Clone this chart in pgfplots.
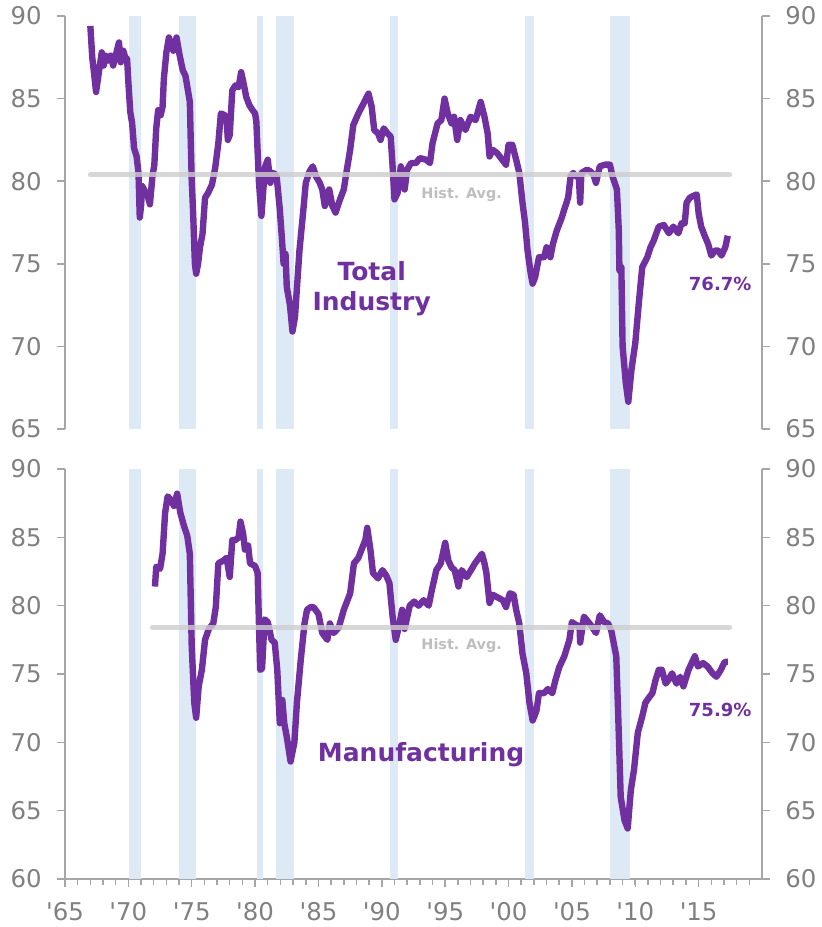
\documentclass[border=0pt]{standalone}
\usepackage{pgfplots}
\pgfplotsset{compat=1.18}
\usepackage{fontspec}
\setmainfont{DejaVu Sans}
\definecolor{cuPurple}{RGB}{112,48,160}
\definecolor{recBlue}{RGB}{222,233,246}
\definecolor{axGray}{RGB}{166,166,166}
\definecolor{lblGray}{RGB}{128,128,128}
\definecolor{avgGray}{RGB}{205,205,205}
\definecolor{avgText}{RGB}{190,190,190}

\pgfplotsset{
  cubase/.style={
    scale only axis, width=348.5pt,
    xmin=1965, xmax=2020,
    axis line style={axGray, line width=0.75pt},
    tick style={axGray, line width=0.75pt},
    tick align=outside,
    major tick length=4pt, minor tick length=3pt,
    ticklabel style={font=\fontsize{12.2}{15}\selectfont, text=lblGray},
    /pgf/number format/assume math mode=true,
  },
  leftax/.style={axis y line*=left, yticklabel style={anchor=east, inner sep=0pt, xshift=-7.5pt}},
  rightax/.style={axis y line*=right, axis x line=none, yticklabel style={anchor=west, inner sep=0pt, xshift=7.5pt}},
}
\newcommand\recessions[2]{%
  \addplot[fill=recBlue, draw=none] coordinates {(1970.07,#1) (1970.07,#2) (1970.97,#2) (1970.97,#1)} -- cycle;
  \addplot[fill=recBlue, draw=none] coordinates {(1973.99,#1) (1973.99,#2) (1975.35,#2) (1975.35,#1)} -- cycle;
  \addplot[fill=recBlue, draw=none] coordinates {(1980.14,#1) (1980.14,#2) (1980.64,#2) (1980.64,#1)} -- cycle;
  \addplot[fill=recBlue, draw=none] coordinates {(1981.64,#1) (1981.64,#2) (1983.04,#2) (1983.04,#1)} -- cycle;
  \addplot[fill=recBlue, draw=none] coordinates {(1990.63,#1) (1990.63,#2) (1991.31,#2) (1991.31,#1)} -- cycle;
  \addplot[fill=recBlue, draw=none] coordinates {(2001.30,#1) (2001.30,#2) (2001.99,#2) (2001.99,#1)} -- cycle;
  \addplot[fill=recBlue, draw=none] coordinates {(2008.00,#1) (2008.00,#2) (2009.58,#2) (2009.58,#1)} -- cycle;
}

\pgfplotstableread{
x y
1967.0 89.4
1967.15 87.5
1967.3 86.5
1967.45 85.4
1967.6 86.2
1967.75 87.0
1967.9 87.8
1968.05 87.0
1968.2 87.6
1968.4 87.3
1968.6 87.6
1968.8 87.0
1969.0 87.6
1969.26 88.4
1969.4 87.2
1969.6 87.9
1969.75 87.5
1969.9 87.4
1970.0 86.0
1970.15 84.2
1970.3 83.5
1970.45 82.0
1970.65 81.5
1970.8 80.5
1970.9 77.8
1971.0 78.5
1971.1 79.7
1971.3 79.4
1971.5 79.2
1971.7 78.6
1971.9 80.3
1972.05 81.0
1972.2 83.2
1972.35 84.3
1972.55 84.0
1972.7 84.5
1972.8 86.2
1973.0 87.8
1973.2 88.7
1973.4 88.2
1973.55 87.9
1973.8 88.7
1974.05 87.6
1974.3 86.7
1974.5 86.4
1974.7 85.5
1974.85 84.8
1975.0 80.0
1975.1 78.3
1975.25 75.0
1975.35 74.4
1975.5 75.0
1975.65 76.0
1975.85 76.8
1976.05 79.0
1976.3 79.3
1976.6 79.8
1976.85 80.8
1977.1 82.3
1977.3 84.1
1977.6 84.0
1977.75 83.8
1977.85 82.5
1978.0 82.8
1978.2 85.5
1978.45 85.8
1978.7 85.7
1978.9 86.6
1979.1 85.9
1979.3 85.1
1979.55 84.6
1979.8 84.3
1980.0 84.1
1980.1 83.6
1980.3 80.0
1980.5 77.9
1980.65 79.5
1980.8 80.9
1981.0 81.3
1981.2 79.9
1981.45 80.5
1981.7 80.3
1981.95 78.3
1982.1 76.7
1982.25 75.0
1982.4 75.6
1982.5 73.6
1982.75 72.5
1982.95 70.9
1983.15 71.8
1983.5 75.8
1983.8 78.2
1984.0 79.9
1984.3 80.6
1984.55 80.9
1984.8 80.3
1985.1 79.9
1985.3 79.5
1985.5 78.5
1985.7 78.9
1985.85 79.5
1986.1 78.5
1986.35 78.1
1986.7 78.9
1987.0 79.5
1987.2 80.5
1987.5 81.9
1987.75 83.4
1988.15 84.1
1988.55 84.7
1988.95 85.3
1989.2 84.5
1989.4 83.1
1989.7 82.9
1989.9 82.5
1990.15 83.2
1990.45 82.9
1990.7 82.7
1990.85 80.9
1991.0 78.9
1991.25 79.3
1991.5 80.9
1991.8 79.5
1992.0 80.7
1992.3 81.1
1992.7 81.1
1993.0 81.4
1993.5 81.3
1993.8 81.1
1994.0 82.3
1994.4 83.5
1994.7 83.7
1994.95 85.0
1995.2 84.1
1995.5 83.5
1995.7 83.9
1995.95 82.5
1996.2 83.7
1996.6 83.1
1997.0 83.9
1997.4 83.7
1997.8 84.8
1998.1 83.9
1998.35 82.9
1998.5 81.5
1998.75 81.9
1999.1 81.7
1999.5 81.3
1999.8 81.0
2000.0 82.2
2000.3 82.2
2000.6 81.3
2000.85 80.5
2001.1 78.7
2001.3 77.5
2001.5 75.8
2001.75 74.4
2001.9 73.8
2002.1 74.2
2002.4 75.4
2002.8 75.4
2003.0 76.0
2003.3 75.4
2003.5 76.2
2003.8 77.0
2004.2 77.8
2004.4 78.3
2004.7 79.0
2004.9 80.3
2005.1 80.5
2005.35 80.3
2005.55 80.2
2005.65 78.7
2005.75 80.5
2006.2 80.7
2006.45 80.6
2006.7 80.4
2006.9 79.9
2007.2 80.9
2007.6 81.0
2008.0 81.0
2008.2 80.3
2008.55 79.5
2008.7 77.0
2008.75 74.6
2008.9 74.8
2009.0 70.0
2009.25 67.8
2009.45 66.65
2009.7 68.6
2010.0 70.2
2010.3 72.8
2010.55 74.8
2010.95 75.4
2011.2 76.0
2011.45 76.4
2011.85 77.25
2012.25 77.35
2012.65 76.85
2013.0 77.25
2013.4 76.85
2013.65 77.45
2013.9 77.45
2014.05 78.7
2014.3 79.0
2014.55 79.1
2014.85 79.2
2015.0 78.05
2015.2 77.25
2015.5 76.65
2015.75 76.2
2016.0 75.5
2016.3 75.8
2016.55 75.8
2016.8 75.5
2017.1 76.0
2017.3 76.7
}\totalind

\pgfplotstableread{
x y
1972.1 81.4
1972.2 82.85
1972.5 82.7
1972.7 83.8
1972.9 86.8
1973.1 88.0
1973.3 87.8
1973.6 87.3
1973.85 88.2
1974.1 86.8
1974.4 85.8
1974.65 85.1
1974.85 83.8
1975.0 77.0
1975.2 72.9
1975.35 71.8
1975.55 74.1
1975.8 75.3
1976.05 77.5
1976.35 78.3
1976.7 78.7
1976.9 79.9
1977.1 83.1
1977.5 83.3
1977.75 83.5
1978.0 82.1
1978.2 84.8
1978.45 84.8
1978.7 85.0
1978.85 86.15
1979.05 85.3
1979.2 84.1
1979.45 84.4
1979.6 83.1
1980.0 82.9
1980.2 82.4
1980.4 75.3
1980.55 75.4
1980.75 79.0
1981.0 78.8
1981.3 77.5
1981.55 77.3
1981.75 75.3
1981.95 71.4
1982.15 73.1
1982.3 71.4
1982.5 70.4
1982.8 68.6
1983.1 70.0
1983.3 72.9
1983.6 76.0
1983.9 78.7
1984.1 79.7
1984.4 79.9
1984.6 79.9
1985.0 79.4
1985.3 78.0
1985.7 77.5
1985.9 78.7
1986.2 78.0
1986.6 78.4
1987.0 79.7
1987.5 80.9
1987.8 83.1
1988.15 83.5
1988.4 84.1
1988.7 84.8
1988.85 85.7
1989.1 84.1
1989.3 82.4
1989.7 82.0
1990.05 82.6
1990.35 82.2
1990.6 81.65
1990.85 79.2
1991.1 77.5
1991.4 78.7
1991.6 79.7
1991.8 78.3
1992.2 80.0
1992.55 80.3
1992.9 80.0
1993.3 80.4
1993.7 80.0
1993.95 81.15
1994.3 82.6
1994.65 83.1
1995.0 84.6
1995.25 83.3
1995.5 82.8
1995.75 82.6
1996.05 81.4
1996.3 82.6
1996.7 82.1
1997.1 82.7
1997.35 83.1
1997.75 83.6
1997.9 83.8
1998.1 83.1
1998.25 82.4
1998.5 80.2
1998.75 80.8
1999.15 80.6
1999.55 80.4
1999.8 79.9
2000.1 80.9
2000.4 80.8
2000.6 79.7
2000.85 78.7
2001.1 76.5
2001.4 75.05
2001.65 72.9
2001.9 71.6
2002.2 72.3
2002.4 73.6
2002.8 73.6
2003.1 73.9
2003.45 73.6
2003.7 74.55
2004.0 75.5
2004.4 76.3
2004.8 77.5
2005.0 78.8
2005.3 78.6
2005.6 78.5
2005.65 77.3
2005.95 79.2
2006.3 78.8
2006.55 78.5
2006.9 78.0
2007.2 79.3
2007.55 78.8
2007.85 78.7
2008.1 78.2
2008.5 76.3
2008.65 72.1
2008.85 66.0
2009.15 64.3
2009.4 63.7
2009.65 66.5
2009.9 68.0
2010.2 70.7
2010.55 71.9
2010.8 72.9
2011.1 73.3
2011.35 73.6
2011.6 74.55
2011.85 75.3
2012.1 75.3
2012.4 74.3
2012.6 74.55
2012.9 75.05
2013.25 74.3
2013.55 74.8
2013.8 74.1
2014.2 75.3
2014.45 75.8
2014.7 76.3
2014.95 75.55
2015.35 75.8
2015.7 75.55
2016.1 75.05
2016.4 74.8
2016.75 75.3
2017.0 75.8
2017.15 75.9
2017.3 75.9
}\manuf

\begin{document}
\begin{tikzpicture}
% ---------- top panel ----------
\begin{axis}[cubase, leftax, at={(32.5pt,-214.5pt)}, anchor=south west,
  height=206.5pt, ymin=65, ymax=90, ytick={65,70,...,90}, axis x line=none]
  \recessions{65}{90}
  \addplot[cuPurple, line width=3.2pt, line join=round] table[x=x,y=y] {\totalind};
  \addplot[avgGray, line width=2.5pt, line cap=round, opacity=0.8] coordinates {(1967.0,80.38) (2017.45,80.38)};
  \node[font=\fontsize{12.5}{15}\selectfont\bfseries, text=cuPurple, align=center] at (axis cs:1989.2,73.5) {Total\\Industry};
  \node[font=\fontsize{9}{11}\selectfont\bfseries, text=cuPurple] at (axis cs:2016.7,73.8) {76.7\%};
  \node[font=\fontsize{7.2}{9}\selectfont\bfseries, text=avgText] at (axis cs:1996.3,79.2) {Hist. Avg.};
\end{axis}
\begin{axis}[cubase, rightax, at={(32.5pt,-214.5pt)}, anchor=south west,
  height=206.5pt, ymin=65, ymax=90, ytick={65,70,...,90}]
  \addplot[draw=none] coordinates {(1965,65)};
\end{axis}
% ---------- bottom panel ----------
\begin{axis}[cubase, leftax, at={(32.5pt,-439.5pt)}, anchor=south west,
  height=205pt, ymin=60, ymax=90, ytick={60,65,...,90},
  axis x line*=bottom,
  xtick={1965,1970,...,2015},
  xticklabels={\textquotesingle65,\textquotesingle70,\textquotesingle75,\textquotesingle80,\textquotesingle85,\textquotesingle90,\textquotesingle95,\textquotesingle00,\textquotesingle05,\textquotesingle10,\textquotesingle15},
  minor xtick={1966,1967,...,2019},
  xticklabel style={anchor=north, inner sep=0pt, yshift=-7.5pt}]
  \recessions{60}{90}
  \addplot[cuPurple, line width=3.2pt, line join=round] table[x=x,y=y] {\manuf};
  \addplot[avgGray, line width=2.5pt, line cap=round, opacity=0.8] coordinates {(1971.9,78.42) (2017.45,78.42)};
  \node[font=\fontsize{12.5}{15}\selectfont\bfseries, text=cuPurple] at (axis cs:1993.1,69.1) {Manufacturing};
  \node[font=\fontsize{9}{11}\selectfont\bfseries, text=cuPurple] at (axis cs:2016.7,72.4) {75.9\%};
  \node[font=\fontsize{7.2}{9}\selectfont\bfseries, text=avgText] at (axis cs:1996.3,77.1) {Hist. Avg.};
\end{axis}
\begin{axis}[cubase, rightax, at={(32.5pt,-439.5pt)}, anchor=south west,
  height=205pt, ymin=60, ymax=90, ytick={60,65,...,90}]
  \addplot[draw=none] coordinates {(1965,60)};
\end{axis}
\pgfresetboundingbox
\path[use as bounding box] (0,0) rectangle (410.5pt,-463.5pt);
\end{tikzpicture}
\end{document}
